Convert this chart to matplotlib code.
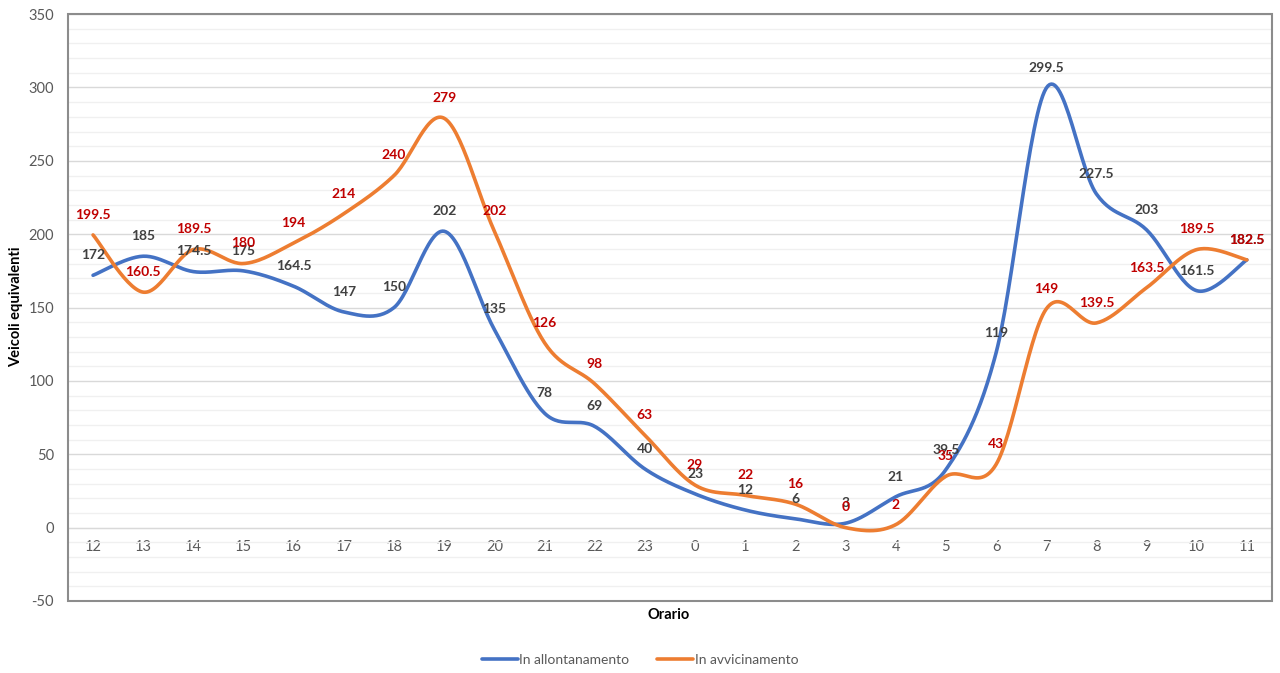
import numpy as np
import matplotlib.pyplot as plt
from matplotlib.patches import Rectangle

plt.rcParams['font.family'] = ['Lato', 'DejaVu Sans']
plt.rcParams['axes.unicode_minus'] = False

hours = ['12', '13', '14', '15', '16', '17', '18', '19', '20', '21', '22', '23',
         '0', '1', '2', '3', '4', '5', '6', '7', '8', '9', '10', '11']
allontanamento = [172, 185, 174.5, 175, 164.5, 147, 150, 202, 135, 78, 69, 40,
                  23, 12, 6, 3, 21, 39.5, 119, 299.5, 227.5, 203, 161.5, 182.5]
avvicinamento = [199.5, 160.5, 189.5, 180, 194, 214, 240, 279, 202, 126, 98, 63,
                 29, 22, 16, 0, 2, 35, 43, 149, 139.5, 163.5, 189.5, 182.5]


def smooth(y, n=30):
    # excel-like smoothed line: cubic bezier, control points from neighbours / 6
    y = np.asarray(y, dtype=float)
    x = np.arange(len(y), dtype=float)
    xs, ys = [], []
    t = np.linspace(0, 1, n)
    for i in range(len(y) - 1):
        x0, y0 = x[i], y[i]
        x3, y3 = x[i + 1], y[i + 1]
        xp, yp = (x[i - 1], y[i - 1]) if i > 0 else (x0, y0)
        xn, yn = (x[i + 2], y[i + 2]) if i + 2 < len(y) else (x3, y3)
        x1, y1 = x0 + (x3 - xp) / 6, y0 + (y3 - yp) / 6
        x2, y2 = x3 - (xn - x0) / 6, y3 - (yn - y0) / 6
        bx = (1-t)**3*x0 + 3*(1-t)**2*t*x1 + 3*(1-t)*t**2*x2 + t**3*x3
        by = (1-t)**3*y0 + 3*(1-t)**2*t*y1 + 3*(1-t)*t**2*y2 + t**3*y3
        xs.append(bx); ys.append(by)
    return np.concatenate(xs), np.concatenate(ys)


fig = plt.figure(figsize=(12.8, 6.73), dpi=100)
ax = fig.add_axes([0.0531, 0.107, 0.9406, 0.872])

blue = '#4472C4'
orange = '#ED7D31'

bx, by = smooth(allontanamento)
ox, oy = smooth(avvicinamento)
ax.plot(bx, by, color=blue, lw=2.6, label='In allontanamento', solid_capstyle='round', zorder=3)
ax.plot(ox, oy, color=orange, lw=2.6, label='In avvicinamento', solid_capstyle='round', zorder=3)

for i, v in enumerate(allontanamento):
    ax.annotate(f'{v:g}', (i, v), xytext=(0, 14.5), textcoords='offset points',
                ha='center', va='center', fontsize=10, fontweight='bold', color='#404040', zorder=4)
for i, v in enumerate(avvicinamento):
    ax.annotate(f'{v:g}', (i, v), xytext=(0, 14.5), textcoords='offset points',
                ha='center', va='center', fontsize=10, fontweight='bold', color='#C00000', zorder=5)

ax.set_xlim(-0.5, len(hours) - 0.5)
ax.set_ylim(-50, 350)
ax.set_yticks(np.arange(-50, 351, 50))
ax.set_yticks(np.arange(-50, 351, 10), minor=True)
ax.set_xticks(range(len(hours)))
ax.set_xticklabels(hours)
ax.grid(axis='y', which='major', color='#D9D9D9', lw=1)
ax.grid(axis='y', which='minor', color='#F0F0F0', lw=1)
ax.set_axisbelow(True)

ax.tick_params(axis='both', which='both', length=0, labelsize=10.5, labelcolor='#595959')
ax.tick_params(axis='x', pad=9)
ax.tick_params(axis='y', pad=10)

for s in ['top', 'right', 'left']:
    ax.spines[s].set_visible(False)
ax.spines['bottom'].set_position(('data', 0))
ax.spines['bottom'].set_color('#D9D9D9')
ax.add_patch(Rectangle((0, 0), 1, 1, transform=ax.transAxes, fill=False,
                       edgecolor='#8C8C8C', lw=1.5, zorder=6, clip_on=False))

fig.text(0.0125, 0.544, 'Veicoli equivalenti', rotation=90, ha='center', va='center',
         fontsize=10.5, fontweight='bold')
fig.text(0.5227, 0.086, 'Orario', ha='center', va='center', fontsize=10.5, fontweight='bold')

fig.legend(loc='center', bbox_to_anchor=(0.5, 0.019), ncol=2, frameon=False,
           fontsize=10, labelcolor='#595959', handlelength=2.6, handletextpad=0.1,
           columnspacing=2.0)

fig.savefig('out.png', dpi=100)
